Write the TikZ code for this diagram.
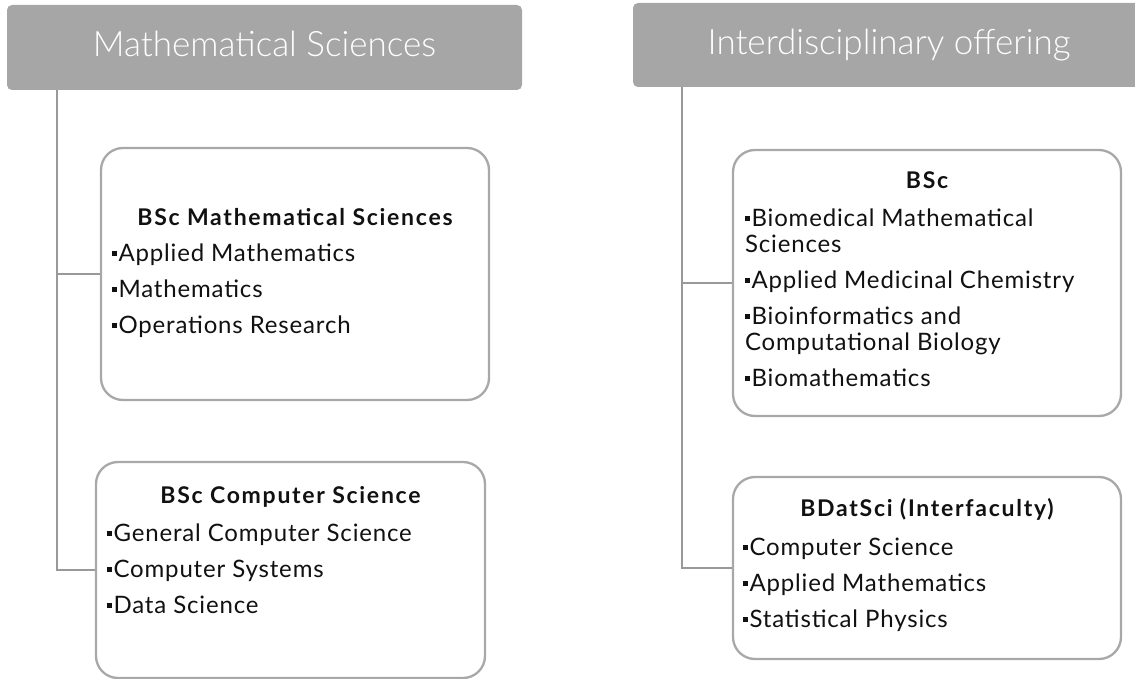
\documentclass[tikz,border=0pt]{standalone}
\usepackage{fontspec}
\setmainfont{Lato}
\newfontfamily\hdrfont{Lato Light}
\newfontfamily\bodyfont{Lato}[LetterSpace=3.5]
\newfontfamily\titlefont{Lato Bold}[LetterSpace=7.5]
\usetikzlibrary{calc}
\definecolor{hdrgray}{HTML}{A6A6A6}
\definecolor{linegray}{HTML}{999999}
\definecolor{boxgray}{HTML}{A8A8A8}
\definecolor{txt}{HTML}{111111}
\newcommand\bul{\rule[5pt]{5pt}{5pt}\hspace{1.5pt}}
\newcommand\tstrut{\rule{0pt}{22pt}}
\tikzset{
  hdr/.style={rectangle, rounded corners=5pt, fill=hdrgray, draw=none,
    text=white, font=\hdrfont\fontsize{35}{38}\selectfont,
    text height=25pt, text depth=6pt, inner sep=0pt},
  card/.style={rectangle, rounded corners=22pt, draw=boxgray, line width=2.3pt,
    fill=white, inner sep=0pt},
  cardtitle/.style={anchor=base, inner sep=0pt, text=txt,
    font=\titlefont\fontsize{23}{26}\selectfont},
  cardbody/.style={anchor=north west, inner sep=0pt, align=left, text=txt,
    font=\bodyfont\fontsize{24}{26}\selectfont},
  conn/.style={draw=linegray, line width=2pt},
}
\begin{document}
\begin{tikzpicture}[x=1pt,y=-1pt]
\useasboundingbox (0,0) rectangle (1135,679);
% headers
\node[hdr, minimum width=515pt, minimum height=85pt] (hdrL) at (264.5,47.5) {Mathematical Sciences};
\node[hdr, minimum width=512pt, minimum height=84pt] (hdrR) at (889,45) {Interdisciplinary offering};
% cards
\node[card, minimum width=388pt, minimum height=252pt] (box1) at (295,274) {};
\node[card, minimum width=389pt, minimum height=216pt] (box2) at (290.5,570) {};
\node[card, minimum width=388pt, minimum height=266pt] (box3) at (927,283) {};
\node[card, minimum width=388pt, minimum height=182pt] (box4) at (927,568) {};
% connectors
\coordinate (jL) at ($(hdrL.south west)+(50,0)$);
\coordinate (jR) at ($(hdrR.south west)+(49,0)$);
\draw[conn] (jL) |- (box2.west);
\draw[conn] (jL) |- (box1.west);
\draw[conn] (jR) |- (box4.west);
\draw[conn] (jR) |- (box3.west);
% card texts
\node[cardtitle] (t1) at ($(box1.north)+(0,79)$) {BSc Mathematical Sciences};
\node[cardbody] (b1) at ($(box1.north west)+(12,92)$) {\tstrut\bul Applied Mathematics\\[10pt]\bul Mathematics\\[10pt]\bul Operations Research};
\node[cardtitle] (t2) at ($(box2.north)+(0,43)$) {BSc Computer Science};
\node[cardbody] (b2) at ($(box2.north west)+(12,58)$) {\tstrut\bul General Computer Science\\[10pt]\bul Computer Systems\\[10pt]\bul Data Science};
\node[cardtitle] (t3) at ($(box3.north)+(0,40)$) {BSc};
\node[cardbody] (b3) at ($(box3.north west)+(13,55)$) {\tstrut\bul Biomedical Mathematical\\Sciences\\[10pt]\bul Applied Medicinal Chemistry\\[10pt]\bul Bioinformatics and\\Computational Biology\\[10pt]\bul Biomathematics};
\node[cardtitle] (t4) at ($(box4.north)+(0,41)$) {BDatSci (Interfaculty)};
\node[cardbody] (b4) at ($(box4.north west)+(11,57)$) {\tstrut\bul Computer Science\\[10pt]\bul Applied Mathematics\\[10pt]\bul Statistical Physics};
\end{tikzpicture}
\end{document}
